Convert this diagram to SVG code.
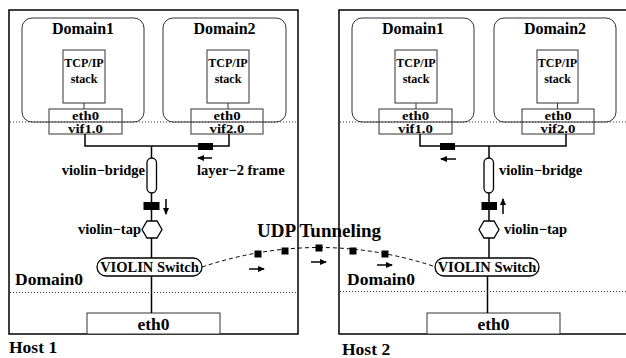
<svg xmlns="http://www.w3.org/2000/svg" width="626" height="358" viewBox="0 0 626 358">
<defs>
<style>
text{font-family:"Liberation Serif","Times New Roman",serif;font-weight:bold;fill:#000}
.host{fill:none;stroke:#000;stroke-width:1.5}
.box{fill:#fff;stroke:#333;stroke-width:1}
.dom{fill:none;stroke:#333;stroke-width:1}
.dot{fill:none;stroke:#333;stroke-width:1;stroke-dasharray:1 2}
.ln{fill:none;stroke:#000;stroke-width:1.5}
.thin{fill:none;stroke:#333;stroke-width:1}
.cap{fill:#fff;stroke:#000;stroke-width:1.3}
.pkt{fill:#000}
.arr{fill:none;stroke:#000;stroke-width:1.5;marker-end:url(#ah)}
.t16{font-size:16px;text-anchor:middle}
.t12{font-size:12px;text-anchor:middle}
.t14{font-size:14.5px}
.tv{font-size:12px;text-anchor:middle}
.t17{font-size:17.5px}
</style>
<marker id="ah" markerWidth="7" markerHeight="6" refX="6" refY="3" orient="auto" markerUnits="userSpaceOnUse"><path d="M0,0 L7,3 L0,6 z" fill="#000"/></marker>
</defs>

<!-- Host 1 -->
<g id="host1">
<rect class="host" x="9" y="10" width="289" height="324"/>
<line class="dot" x1="10" y1="122" x2="298" y2="122"/>
<line class="dot" x1="10" y1="292.5" x2="298" y2="292.5"/>
<text class="t17" x="9" y="353">Host 1</text>
<text class="t17" x="15" y="285">Domain0</text>
</g>
<g id="h1-domain1">
<rect class="dom" x="22" y="18" width="122" height="104" rx="10"/>
<text class="t16" x="83" y="34">Domain1</text>
<rect class="box" x="63" y="50" width="42" height="53"/>
<text class="t12" x="84" y="67">TCP/IP</text>
<text class="t12" x="84" y="83">stack</text>
<line class="thin" x1="84" y1="103" x2="84" y2="109"/>
</g>
<g id="h1-domain2">
<rect class="dom" x="163" y="18" width="123" height="104" rx="10"/>
<text class="t16" x="224.5" y="34">Domain2</text>
<rect class="box" x="207" y="50" width="42" height="53"/>
<text class="t12" x="228" y="67">TCP/IP</text>
<text class="t12" x="228" y="83">stack</text>
<line class="thin" x1="228" y1="103" x2="228" y2="109"/>
</g>
<g id="h1-vif1">
<rect class="dom" x="49" y="109" width="73" height="25"/>
<text class="tv" x="85.5" y="119.5" textLength="27" lengthAdjust="spacingAndGlyphs">eth0</text>
<text class="tv" x="85.5" y="133" textLength="35" lengthAdjust="spacingAndGlyphs">vif1.0</text>
</g>
<g id="h1-vif2">
<rect class="dom" x="191" y="109" width="72" height="25"/>
<text class="tv" x="227" y="119.5" textLength="27" lengthAdjust="spacingAndGlyphs">eth0</text>
<text class="tv" x="227" y="133" textLength="35" lengthAdjust="spacingAndGlyphs">vif2.0</text>
</g>
<g id="h1-bridge">
<rect class="cap" x="147" y="158" width="9.5" height="35" rx="4.75"/>
<text class="t14" x="145" y="175" text-anchor="end">violin−bridge</text>
</g>
<g id="h1-tap">
<polygon class="cap" points="142,229.5 147,221 157,221 162,229.5 157,238 147,238"/>
<text class="t14" x="141" y="234" text-anchor="end">violin−tap</text>
</g>
<g id="h1-switch">
<rect class="cap" x="97" y="258" width="105" height="18" rx="9"/>
<text class="t14" x="149.5" y="272" text-anchor="middle">VIOLIN Switch</text>
</g>
<g id="h1-eth0">
<rect class="box" x="87" y="313" width="133" height="21"/>
<text class="t17" x="153.5" y="330" text-anchor="middle">eth0</text>
</g>

<!-- Host 2 -->
<g id="host2">
<rect class="host" x="339" y="10" width="300" height="324"/>
<line class="dot" x1="340" y1="122" x2="626" y2="122"/>
<line class="dot" x1="340" y1="291.5" x2="626" y2="291.5"/>
<text class="t17" x="342" y="355">Host 2</text>
<text class="t17" x="347" y="285">Domain0</text>
</g>
<g id="h2-domain1">
<rect class="dom" x="352" y="18" width="122" height="104" rx="10"/>
<text class="t16" x="413" y="34">Domain1</text>
<rect class="box" x="395" y="50" width="42" height="53"/>
<text class="t12" x="416" y="67">TCP/IP</text>
<text class="t12" x="416" y="83">stack</text>
<line class="thin" x1="416" y1="103" x2="416" y2="109"/>
</g>
<g id="h2-domain2">
<rect class="dom" x="494" y="18" width="122" height="104" rx="10"/>
<text class="t16" x="555" y="34">Domain2</text>
<rect class="box" x="537" y="50" width="41" height="53"/>
<text class="t12" x="557.5" y="67">TCP/IP</text>
<text class="t12" x="557.5" y="83">stack</text>
<line class="thin" x1="557.5" y1="103" x2="557.5" y2="109"/>
</g>
<g id="h2-vif1">
<rect class="dom" x="379" y="109" width="73" height="25"/>
<text class="tv" x="415.5" y="119.5" textLength="27" lengthAdjust="spacingAndGlyphs">eth0</text>
<text class="tv" x="415.5" y="133" textLength="35" lengthAdjust="spacingAndGlyphs">vif1.0</text>
</g>
<g id="h2-vif2">
<rect class="dom" x="522" y="109" width="72" height="25"/>
<text class="tv" x="558" y="119.5" textLength="27" lengthAdjust="spacingAndGlyphs">eth0</text>
<text class="tv" x="558" y="133" textLength="35" lengthAdjust="spacingAndGlyphs">vif2.0</text>
</g>
<g id="h2-bridge">
<rect class="cap" x="484" y="158" width="9.5" height="35" rx="4.75"/>
<text class="t14" x="499" y="175">violin−bridge</text>
</g>
<g id="h2-tap">
<polygon class="cap" points="479,229.5 484,221 494,221 499,229.5 494,238 484,238"/>
<text class="t14" x="504" y="234">violin−tap</text>
</g>
<g id="h2-switch">
<rect class="cap" x="435" y="258" width="104" height="18" rx="9"/>
<text class="t14" x="487" y="272" text-anchor="middle">VIOLIN Switch</text>
</g>
<g id="h2-eth0">
<rect class="box" x="427" y="313" width="133" height="21"/>
<text class="t17" x="493.5" y="330" text-anchor="middle">eth0</text>
</g>

<text id="udp-label" x="257" y="237" style="font-size:19px">UDP Tunneling</text>

<!-- connectors -->
<g id="connectors">
<polyline class="ln" points="85,134 85,146 229,146 229,134"/>
<line class="ln" x1="151.5" y1="146" x2="151.5" y2="158"/>
<line class="ln" x1="151.5" y1="193" x2="151.5" y2="221"/>
<line class="ln" x1="151.5" y1="238" x2="151.5" y2="258"/>
<line class="ln" x1="151.5" y1="276" x2="151.5" y2="313"/>
<polyline class="ln" points="420,134 420,146 566,146 566,134"/>
<line class="ln" x1="489" y1="146" x2="489" y2="158"/>
<line class="ln" x1="489" y1="193" x2="489" y2="221"/>
<line class="ln" x1="489" y1="238" x2="489" y2="258"/>
<line class="ln" x1="487.5" y1="276" x2="487.5" y2="313"/>
<path d="M202,267 Q319,228 436,267" fill="none" stroke="#000" stroke-width="1" stroke-dasharray="4 3"/>
<!-- packets -->
<rect class="pkt" x="198" y="143" width="15" height="7"/>
<rect class="pkt" x="143.5" y="202" width="16" height="8"/>
<rect class="pkt" x="440" y="143" width="15" height="7"/>
<rect class="pkt" x="481.5" y="202" width="15.5" height="8"/>
<rect class="pkt" x="254.5" y="250.5" width="7" height="7"/>
<rect class="pkt" x="281.5" y="247.5" width="7" height="7"/>
<rect class="pkt" x="315.5" y="244.5" width="7" height="7"/>
<rect class="pkt" x="349.5" y="247.5" width="7" height="7"/>
<rect class="pkt" x="381.5" y="250.5" width="7" height="7"/>
<!-- direction arrows -->
<line class="arr" x1="212" y1="158" x2="198" y2="158"/>
<line class="arr" x1="166" y1="199" x2="166" y2="214"/>
<line class="arr" x1="456" y1="159" x2="441" y2="159"/>
<line class="arr" x1="503" y1="214" x2="503" y2="199"/>
<line class="arr" x1="249" y1="269" x2="264" y2="269"/>
<line class="arr" x1="311" y1="262" x2="326" y2="262"/>
<line class="arr" x1="377" y1="265" x2="392" y2="265"/>
</g>
<text x="197" y="175" class="t14">layer−2 frame</text>
</svg>
